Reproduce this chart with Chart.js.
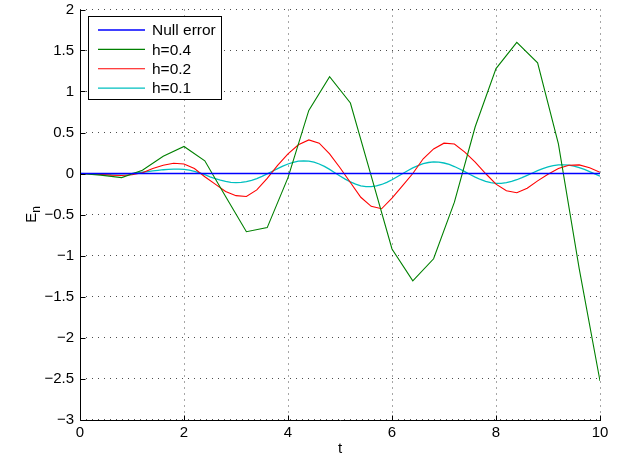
<!DOCTYPE html>
<html>
<head>
<meta charset="utf-8">
<script src="https://cdn.jsdelivr.net/npm/chart.js@4.4.1/dist/chart.umd.min.js"></script>
<style>
  html, body { margin: 0; padding: 0; background: #fff; }
  canvas { display: block; }
</style>
</head>
<body>
<canvas id="err" width="626" height="458"></canvas>
<script>
// error of the scheme for three step sizes, compared with the exact (null) error
const labels = ['Null error', 'h=0.4', 'h=0.2', 'h=0.1'];
const colors = ['#0000ff', '#008000', '#ff0000', '#00bfbf'];

const tNull = [0, 10];
const nullError = [0, 0];

const h4 = 0.4;
const err4 = [0, -0.02, -0.05, 0.04, 0.21, 0.33, 0.155, -0.28, -0.71, -0.66, -0.05,
  0.77, 1.18, 0.86, -0.03, -0.92, -1.31, -1.04, -0.35, 0.57, 1.28, 1.60, 1.35, 0.36,
  -1.16, -2.53];

const h2 = 0.2;
const err2 = [0, -0.005, -0.012, -0.02, -0.025, -0.015, 0.01, 0.06, 0.10, 0.125, 0.115,
  0.06, -0.04, -0.13, -0.22, -0.27, -0.28, -0.20, -0.06, 0.10, 0.24,
  0.35, 0.41, 0.37, 0.24, 0.07, -0.11, -0.29, -0.40, -0.43, -0.30,
  -0.15, 0.0, 0.18, 0.30, 0.37, 0.36, 0.26, 0.14, 0.0, -0.13,
  -0.21, -0.235, -0.18, -0.09, -0.01, 0.06, 0.10, 0.105, 0.07, 0.015];

const h1 = 0.1;
const err1 = [0, -0.001, -0.002, -0.004, -0.005, -0.006, -0.006, -0.005, -0.004, -0.002,
  0.002, 0.008, 0.015, 0.023, 0.031, 0.039, 0.046, 0.051, 0.054, 0.054,
  0.050, 0.040, 0.026, 0.008, -0.015, -0.040, -0.062, -0.082, -0.097, -0.107,
  -0.111, -0.108, -0.099, -0.083, -0.062, -0.035, -0.005, 0.028, 0.060, 0.090,
  0.116, 0.136, 0.150, 0.155, 0.151, 0.138, 0.116, 0.086, 0.050, 0.010,
  -0.030, -0.068, -0.102, -0.130, -0.150, -0.160, -0.161, -0.152, -0.134, -0.108,
  -0.076, -0.040, -0.003, 0.034, 0.068, 0.097, 0.119, 0.134, 0.141, 0.139,
  0.128, 0.110, 0.085, 0.055, 0.022, -0.012, -0.044, -0.073, -0.096, -0.112,
  -0.120, -0.120, -0.112, -0.097, -0.076, -0.051, -0.023, 0.006, 0.034, 0.059,
  0.080, 0.095, 0.104, 0.106, 0.101, 0.089, 0.072, 0.050, 0.024, -0.004,
  -0.032];

const xTicks = [0, 2, 4, 6, 8, 10];
const yTicks = [-3, -2.5, -2, -1.5, -1, -0.5, 0, 0.5, 1, 1.5, 2];

const FONT = '"Liberation Sans", Arial, Helvetica, sans-serif';

function pts(xs, ys) {
  return ys.map((y, i) => ({ x: xs[i], y: y }));
}

function steps(h, n) {
  return Array.from({ length: n }, (_, i) => +(i * h).toFixed(2));
}

function line(i, data, w) {
  return {
    label: labels[i],
    data: data,
    borderColor: colors[i],
    backgroundColor: colors[i],
    borderWidth: w,
    pointRadius: 0,
    tension: 0,
    fill: false
  };
}

// left/bottom axis lines, inward ticks, y title with subscript and legend
const frame = {
  id: 'frame',
  afterDraw(chart) {
    const ctx = chart.ctx;
    const a = chart.chartArea;
    const xs = chart.scales.x, ys = chart.scales.y;
    const L = Math.round(a.left) + 0.5, B = Math.round(a.bottom) + 0.5;
    ctx.save();
    ctx.strokeStyle = '#000';
    ctx.lineWidth = 1;
    ctx.beginPath();
    ctx.moveTo(L, Math.round(a.top));
    ctx.lineTo(L, B);
    ctx.lineTo(Math.round(a.right) + 1, B);

    const tl = 5;
    xTicks.forEach(v => {
      const px = Math.round(xs.getPixelForValue(v)) + 0.5;
      ctx.moveTo(px, B); ctx.lineTo(px, B - tl);
    });
    yTicks.forEach(v => {
      const py = Math.round(ys.getPixelForValue(v)) + 0.5;
      ctx.moveTo(L, py); ctx.lineTo(L + tl, py);
    });
    ctx.stroke();

    // y title: E with subscript n
    ctx.fillStyle = '#000';
    ctx.translate(36, (a.top + a.bottom) / 2);
    ctx.rotate(-Math.PI / 2);
    ctx.textBaseline = 'alphabetic';
    ctx.textAlign = 'left';
    ctx.font = '15px ' + FONT;
    const ew = ctx.measureText('E').width;
    const nw = ctx.measureText('n').width * 0.8;
    const x0 = -(ew + nw) / 2;
    ctx.fillText('E', x0, 0);
    ctx.font = '12px ' + FONT;
    ctx.fillText('n', x0 + ew, 4);
    ctx.restore();

    // legend box
    ctx.save();
    const bx = 88.5, by = 16.5, bw = 133, bh = 83;
    ctx.fillStyle = '#fff';
    ctx.fillRect(bx, by, bw, bh);
    ctx.strokeStyle = '#000';
    ctx.lineWidth = 1;
    ctx.strokeRect(bx, by, bw, bh);
    ctx.font = '15.5px ' + FONT;
    ctx.textBaseline = 'middle';
    ctx.textAlign = 'left';
    chart.data.datasets.forEach((ds, i) => {
      const ry = 30 + i * 19.4;
      ctx.strokeStyle = ds.borderColor;
      ctx.lineWidth = ds.borderWidth;
      ctx.beginPath();
      ctx.moveTo(98, ry);
      ctx.lineTo(145, ry);
      ctx.stroke();
      ctx.fillStyle = '#000';
      ctx.fillText(ds.label, 152, ry + 1);
    });
    ctx.restore();
  }
};

const grid = {
  color: 'rgba(0,0,0,0.7)',
  lineWidth: 1,
  drawTicks: false,
  tickLength: 0
};

new Chart(document.getElementById('err'), {
  type: 'line',
  data: {
    datasets: [
      line(0, pts(tNull, nullError), 1.6),
      line(1, pts(steps(h4, err4.length), err4), 1.1),
      line(2, pts(steps(h2, err2.length), err2), 1.1),
      line(3, pts(steps(h1, err1.length), err1), 1.3)
    ]
  },
  plugins: [frame],
  options: {
    responsive: false,
    animation: false,
    devicePixelRatio: 1,
    layout: { padding: { top: 9.5, right: 26, left: 0, bottom: 0 } },
    plugins: { legend: { display: false }, tooltip: { enabled: false } },
    scales: {
      x: {
        type: 'linear',
        min: 0, max: 10,
        afterBuildTicks: s => { s.ticks = xTicks.map(v => ({ value: v })); },
        afterFit: s => { s.height = 38.5; s.paddingLeft = 0; s.paddingRight = 0; },
        grid: grid,
        border: { display: false, dash: [1, 5] },
        ticks: {
          color: '#000',
          padding: 4,
          autoSkip: false,
          maxRotation: 0,
          font: { family: FONT, size: 15 },
          callback: v => String(v)
        },
        title: {
          display: true, text: 't', color: '#000',
          font: { family: FONT, size: 15 },
          padding: { top: 0, bottom: 0 }
        }
      },
      y: {
        type: 'linear',
        min: -3, max: 2,
        afterBuildTicks: s => { s.ticks = yTicks.map(v => ({ value: v })); },
        afterFit: s => { s.width = 80; s.paddingTop = 0; s.paddingBottom = 0; },
        grid: grid,
        border: { display: false, dash: [1, 5] },
        ticks: {
          color: '#000',
          padding: 6,
          autoSkip: false,
          font: { family: FONT, size: 15 },
          callback: v => (v < 0 ? '\u2212' + String(-v) : String(v))
        }
      }
    }
  }
});
</script>
</body>
</html>
